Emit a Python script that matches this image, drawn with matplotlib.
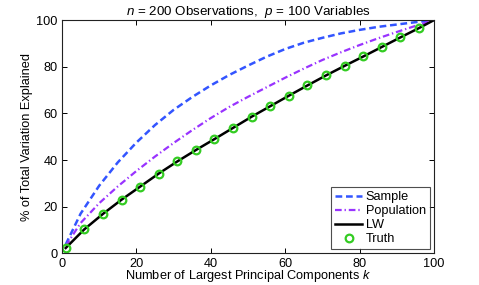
import matplotlib
matplotlib.use("Agg")
import matplotlib.pyplot as plt
import numpy as np

plt.rcParams['font.family'] = ['Liberation Sans', 'DejaVu Sans']
plt.rcParams['mathtext.fontset'] = 'custom'
plt.rcParams['mathtext.rm'] = 'Liberation Sans'
plt.rcParams['mathtext.it'] = 'Liberation Sans:italic'

# sample / population curves, read every 5 components
k_curve = [1, 5, 10, 15, 20, 25, 30, 35, 40, 45, 50, 55, 60, 65, 70, 75, 80, 85, 90, 95, 100]
sample_pct = [3.8, 17.0, 29.0, 39.0, 47.5, 55.0, 61.5, 67.0, 72.0, 76.5, 80.5, 84.3, 87.6, 90.3,
              92.4, 94.3, 95.8, 97.1, 98.1, 99.1, 100.0]
population_pct = [3.2, 13.0, 21.5, 28.7, 35.3, 41.5, 47.3, 52.8, 58.0, 62.8, 67.1, 71.2, 75.3, 79.2,
                  82.9, 86.2, 89.3, 92.2, 94.9, 97.5, 100.0]

# LW estimate and true values
k_lw = [1, 6, 11, 16, 21, 26, 31, 36, 41, 46, 51, 56, 61, 66, 71, 76, 81, 86, 91, 96, 100]
lw_pct = [2.3, 10.3, 16.9, 23.0, 28.6, 34.2, 39.4, 44.3, 49.0, 53.8, 58.6, 63.1, 67.6, 72.0,
          76.3, 80.4, 84.4, 88.5, 92.6, 96.6, 100.0]
k_truth = [1, 6, 11, 16, 21, 26, 31, 36, 41, 46, 51, 56, 61, 66, 71, 76, 81, 86, 91, 96]
truth_pct = [2.3, 10.3, 16.9, 23.0, 28.6, 34.2, 39.4, 44.3, 49.0, 53.8, 58.6, 63.1, 67.6, 72.0,
             76.3, 80.4, 84.4, 88.5, 92.6, 96.6]

fs = 9.2

fig = plt.figure(figsize=(4.79, 2.85), dpi=100)
ax = fig.add_axes([0.1294, 0.111, 0.7766, 0.8185])

ax.plot(k_curve, sample_pct, color='#3355ff', lw=1.8, ls=(0, (2.7, 1.5)), label='Sample')
ax.plot(k_curve, population_pct, color='#9933ff', lw=1.6, ls=(0, (3.0, 1.3, 0.6, 1.3)),
        label='Population')
ax.plot(k_lw, lw_pct, color='black', lw=1.8, label='LW')
ax.plot(k_truth, truth_pct, ls='none', marker='o', ms=5.5, mfc='none', mec='#33cc22', mew=1.6,
        label='Truth')

ax.set_xlim(0, 100)
ax.set_ylim(0, 100)
ax.set_xticks(np.arange(0, 101, 20))
ax.set_yticks(np.arange(0, 101, 20))
ax.tick_params(direction='in', length=3.5, width=0.7, top=True, right=True, labelsize=fs, pad=3)
for s in ax.spines.values():
    s.set_linewidth(0.8)
    s.set_color('#222222')

xl = ax.set_xlabel('Number of Largest Principal Components $k$', fontsize=fs)
xl.set_va('center')
ax.xaxis.set_label_coords(0.5, -0.099)
yl = ax.set_ylabel('% of Total Variation Explained', fontsize=fs)
yl.set_va('center')
ax.yaxis.set_label_coords(-0.094, 0.5)
ax.set_title('$n$ = 200 Observations,  $p$ = 100 Variables', fontsize=9.6, pad=3.5)

leg = ax.legend(loc='lower right', fontsize=fs, frameon=True, fancybox=False, borderpad=0.3,
                labelspacing=0.15, handlelength=2.1, handletextpad=0.27, borderaxespad=0.35)
leg.get_frame().set_edgecolor('#222222')
leg.get_frame().set_linewidth(0.8)

fig.savefig('out.png', dpi=100)
